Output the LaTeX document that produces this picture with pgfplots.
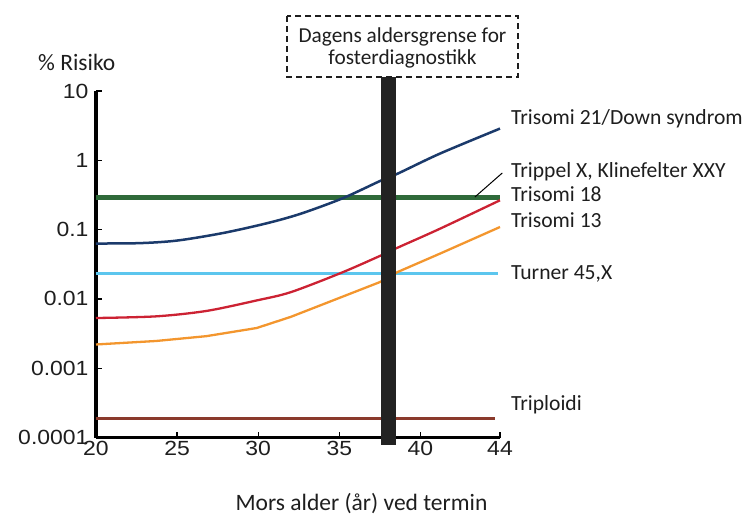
\documentclass[border=0pt]{standalone}
\usepackage{pgfplots}
\pgfplotsset{compat=1.18}
\usepackage{fontspec}
\setmainfont{Carlito}
\newfontfamily\tickfont{Liberation Sans}[FakeStretch=1.12]
\definecolor{t21}{HTML}{1B3A6B}
\definecolor{grn}{HTML}{2F6A3A}
\definecolor{ltb}{HTML}{5CC6EE}
\definecolor{red18}{HTML}{CC2233}
\definecolor{org}{HTML}{F3962E}
\definecolor{brn}{HTML}{8A3A2C}
\definecolor{barc}{HTML}{222222}
\definecolor{txt}{HTML}{1E1E1E}
\begin{document}
\begin{tikzpicture}
\useasboundingbox (0,0) rectangle (747pt,-516pt);
\begin{axis}[
  at={(96pt,-437.5pt)}, anchor=south west,
  scale only axis, width=404pt, height=346.5pt,
  ymode=log, xmin=20, xmax=44.9, ymin=1e-4, ymax=10,
  axis x line*=bottom, axis y line*=left,
  axis line style={line width=3.2pt,-,black},
  xtick={20,25,30,35,40,44.9}, xticklabels={20,25,30,35,40,44},
  ytick={1e-4,1e-3,1e-2,1e-1,1,10},
  yticklabels={0.0001,0.001,0.01,0.1,1,10},
  yminorticks=false,
  tick align=inside, major tick length=6pt,
  tick style={line width=1.3pt,black},
  ticklabel style={font=\tickfont\fontsize{20.5}{23}\selectfont, text=txt},
  xticklabel style={yshift=-0.5pt},
  yticklabel style={xshift=-4pt},
  clip=false,
]
% Triploidi
\addplot[brn, line width=2.8pt] coordinates {(20,0.00019)(44.6,0.00019)};
% Turner
\addplot[ltb, line width=3pt] coordinates {(20,0.0232)(44.75,0.0232)};
% Trippel X / Klinefelter
\addplot[grn, line width=5pt] coordinates {(20,0.295)(44.9,0.295)};
% Trisomi 13
\addplot[org, line width=2.3pt] coordinates {(20,0.0022)(23.7,0.00247)(26.8,0.0029)(29.9,0.0038)(32.0,0.0055)(34.6,0.0095)(37.5,0.0175)(38.6,0.0245)(41.2,0.045)(44.9,0.109)};
% Trisomi 18
\addplot[red18, line width=2.3pt, smooth] coordinates {(20,0.0053)(23.7,0.0056)(26.8,0.0067)(29.9,0.0095)(32.0,0.0125)(35.1,0.0237)(37.5,0.0417)(38.6,0.055)(41.2,0.103)(44.9,0.265)};
% Trisomi 21
\addplot[t21, line width=2.5pt, smooth] coordinates {(20,0.063)(22.7,0.0638)(25.0,0.0695)(27.8,0.0890)(30.5,0.123)(32.6,0.169)(35.2,0.283)(37.5,0.502)(38.6,0.643)(41.2,1.25)(44.9,2.87)};
% leader line
\addplot[black, line width=1pt] coordinates {(43.35,0.295)(45.04,0.656)};
% age limit bar
\addplot[barc, line width=15pt] coordinates {(38,7.8e-5)(38,16.1)};
\end{axis}
\draw[line width=1.8pt, dash pattern=on 6pt off 4pt, txt] (286.7pt,-16pt) rectangle (518.3pt,-76.7pt);
\begin{scope}[every node/.style={text=txt, inner sep=0pt}]
\node[anchor=base, font=\fontsize{21.3}{25}\selectfont] at (402.5pt,-43pt) {Dagens aldersgrense for};
\node[anchor=base, font=\fontsize{21.3}{25}\selectfont] at (402.5pt,-65pt) {fosterdiagnostikk};
\node[anchor=base west, font=\fontsize{23.5}{27}\selectfont] at (38pt,-70.7pt) {\% Risiko};
\node[anchor=base, font=\fontsize{23.5}{27}\selectfont] at (361.5pt,-510pt) {Mors alder (år) ved termin};
\node[anchor=base west, font=\fontsize{21.6}{25}\selectfont] at (511pt,-125pt) {Trisomi 21/Down syndrom};
\node[anchor=base west, font=\fontsize{21.6}{25}\selectfont] at (511pt,-177.3pt) {Trippel X, Klinefelter XXY};
\node[anchor=base west, font=\fontsize{21.6}{25}\selectfont] at (511pt,-201pt) {Trisomi 18};
\node[anchor=base west, font=\fontsize{21.6}{25}\selectfont] at (511pt,-227.7pt) {Trisomi 13};
\node[anchor=base west, font=\fontsize{21.6}{25}\selectfont] at (511pt,-279.3pt) {Turner 45,X};
\node[anchor=base west, font=\fontsize{21.6}{25}\selectfont] at (511pt,-410pt) {Triploidi};
\end{scope}
\end{tikzpicture}
\end{document}
